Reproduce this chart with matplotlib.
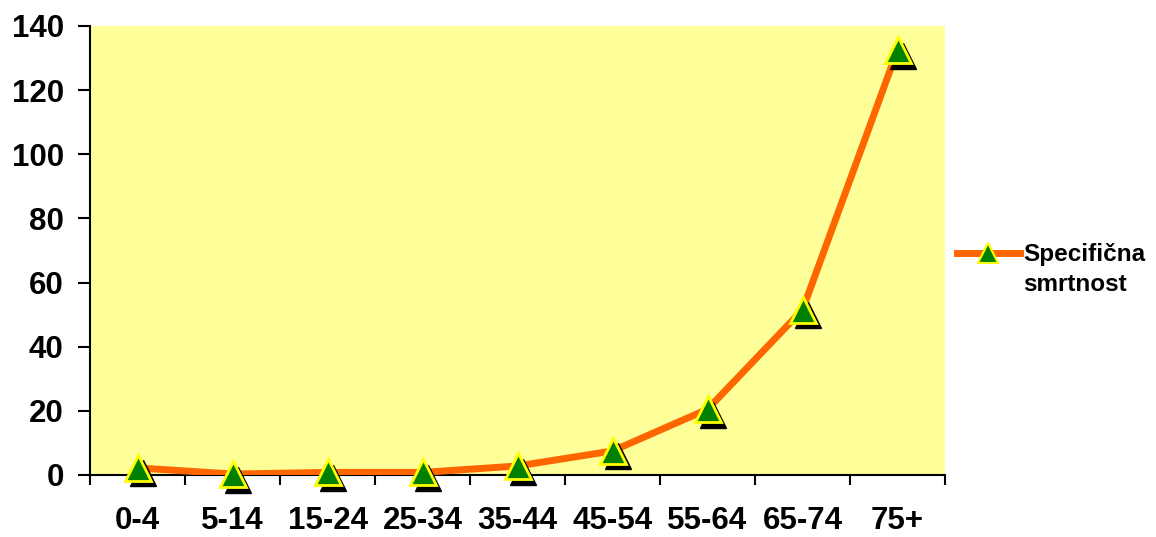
import matplotlib.pyplot as plt
import matplotlib.transforms as mtransforms
from matplotlib.lines import Line2D

age_groups = ["0-4", "5-14", "15-24", "25-34", "35-44", "45-54", "55-64", "65-74", "75+"]
mortality = [2.2, 0.3, 0.8, 0.8, 2.8, 7.5, 20.5, 51.5, 132.5]
y_ticks = [0, 20, 40, 60, 80, 100, 120, 140]
series_name = ["Specifična", "smrtnost"]

plt.rcParams['font.family'] = ['Liberation Sans', 'DejaVu Sans']
plt.rcParams['font.weight'] = 'bold'

fig = plt.figure(figsize=(11.56, 5.37), dpi=100)
ax = fig.add_axes([0.0779, 0.1155, 0.7396, 0.8361])
ax.set_facecolor('#FFFF99')

x = list(range(len(age_groups)))
line_color = '#FF6600'
ax.plot(x, mortality, color=line_color, lw=5, zorder=3, solid_capstyle='round')

# drop shadow under each marker
shadow = mtransforms.offset_copy(ax.transData, fig=fig, x=4, y=-4, units='points')
ax.plot(x, mortality, linestyle='none', marker='^', markersize=19,
        color='black', markeredgecolor='black', transform=shadow, zorder=4, clip_on=False)
ax.plot(x, mortality, linestyle='none', marker='^', markersize=19,
        markerfacecolor='#008000', markeredgecolor='#FFFF00', markeredgewidth=2,
        zorder=5, clip_on=False)

ax.set_xlim(-0.5, len(age_groups) - 0.5)
ax.set_ylim(0, 140)
ax.set_yticks(y_ticks)
ax.set_xticks(x)
ax.set_xticklabels(age_groups)
ax.set_xticks([i + 0.5 for i in range(-1, len(age_groups))], minor=True)
ax.tick_params(axis='x', which='major', length=0, pad=22, labelsize=22.5)
ax.tick_params(axis='x', which='minor', length=7, width=1.5, direction='out')
ax.tick_params(axis='y', length=9, width=1.5, direction='out', pad=10, labelsize=22.5)

for side in ('top', 'right'):
    ax.spines[side].set_visible(False)
for side in ('left', 'bottom'):
    ax.spines[side].set_linewidth(1.5)

# legend: marker aligned with the first line of the series name
handle = Line2D([0], [0], color=line_color, lw=5, marker='^', markersize=14,
                markerfacecolor='#008000', markeredgecolor='#FFFF00', markeredgewidth=1.5)
leg = fig.legend([handle], [series_name[0]], loc='center left',
                 bbox_to_anchor=(0.8085, 0.5255), frameon=False,
                 handlelength=2.6, handletextpad=0.15,
                 prop={'weight': 'bold', 'size': 17.5})
fig.canvas.draw()
first = leg.get_texts()[0].get_window_extent()
fig.text(first.x0, first.y0 - 30, series_name[1], transform=None,
         fontsize=17.5, fontweight='bold', va='bottom', ha='left')

fig.savefig('out.png', dpi=100)
